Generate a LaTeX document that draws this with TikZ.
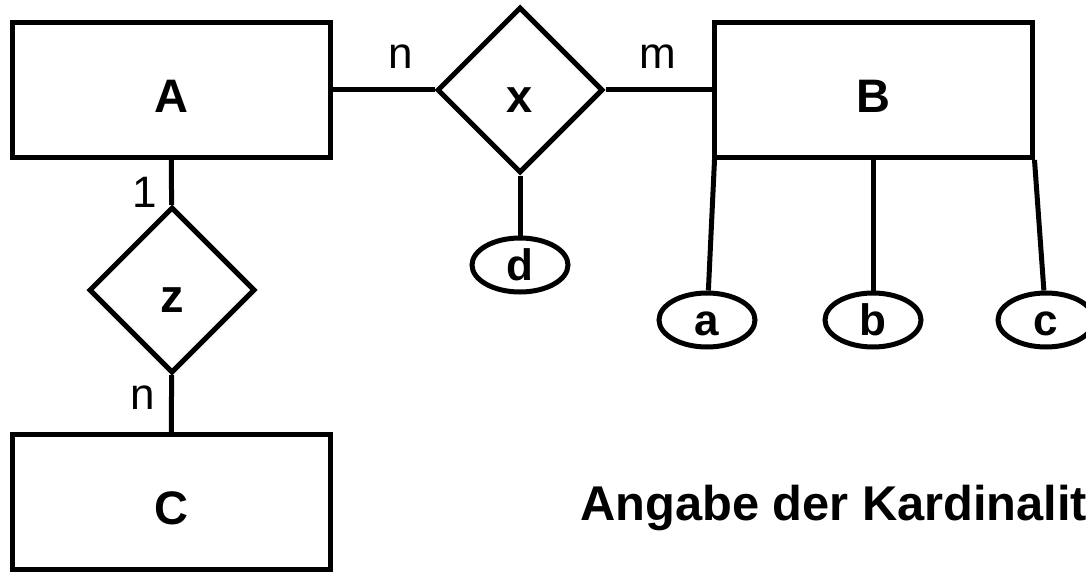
\documentclass[tikz,border=0pt]{standalone}
\usepackage{fontspec}
\setmainfont{Liberation Sans}
\usetikzlibrary{shapes.geometric}

\tikzset{
  entity/.style={draw, line width=5pt, minimum width=318pt, minimum height=135pt,
    text height=45pt, text depth=0pt, font=\fontsize{47}{47}\selectfont\bfseries},
  relation/.style={draw, diamond, aspect=1, inner sep=0pt, line width=5pt,
    minimum size=166pt, text height=45pt, text depth=0pt,
    font=\fontsize{47}{47}\selectfont\bfseries},
  attrib/.style={draw, ellipse, inner sep=0pt, line width=5pt, minimum width=96pt,
    minimum height=54pt, text height=31pt, text depth=0pt,
    font=\fontsize{44}{44}\selectfont\bfseries},
  card/.style={inner sep=0pt, font=\fontsize{44}{44}\selectfont},
  link/.style={draw, line width=5pt},
}

\begin{document}
\begin{tikzpicture}[x=1pt, y=-1pt]
      \useasboundingbox (0,0) rectangle (1086,572);
      \def \Entities{
        A/171/90,
        B/873/90,
        C/171/502}
      \def \Relations{
        x/520/90,
        z/172/290}
      \def \Attributes{
        d/520/265,
        a/707/320,
        b/873/320,
        c/1046/320}
      \def \Links{
        A/x,
        x/B,
        x/d,
        A/z,
        z/C}
      \foreach \id / \x / \y in \Entities{
        \node[entity] (\id) at (\x, \y) {\id};
      }
      \foreach \id / \x / \y in \Relations{
        \node[relation] (\id) at (\x, \y) {\id};
      }
      \foreach \id / \x / \y in \Attributes{
        \node[attrib] (\id) at (\x, \y) {\id};
      }
      % cardinalities
      \node[card] (nAx) at (401, 57){n};
      \node[card] (mxB) at (658, 57){m};
      \node[card] (oneA) at (145, 192){1};
      \node[card] (nC) at (143, 398){n};
      \foreach \x / \y in \Links{
        \path[link] (\x) -- (\y);
      }
      \path[link] ([xshift=3pt]B.south west) -- (a);
      \path[link] (B.south) -- (b);
      \path[link] (B.south east) -- (c);
      \node[anchor=base west, inner sep=0pt, font=\fontsize{48.8}{48.8}\selectfont\bfseries]
        (title) at (580, 520){Angabe der Kardinalitäten};
    \end{tikzpicture}
\end{document}
